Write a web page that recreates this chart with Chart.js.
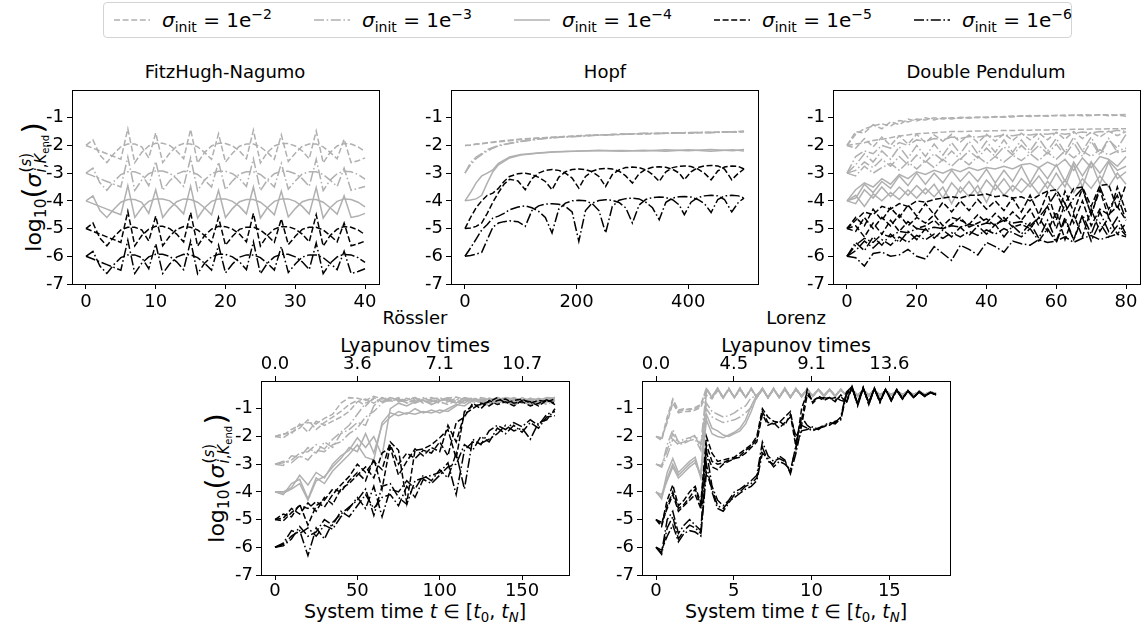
<!DOCTYPE html>
<html lang="en">
<head>
<meta charset="UTF-8">
<title>Uncertainty growth per system</title>
<script src="https://cdn.jsdelivr.net/npm/chart.js@4.4.0/dist/chart.umd.min.js"></script>
<style>
  body { margin: 0; width: 1146px; height: 626px; overflow: hidden; background: #fff; position: relative;
         font-family: "DejaVu Sans", sans-serif; color: #000; }
  canvas { position: absolute; }
  .t { position: absolute; transform: translate(-50%, -50%); white-space: nowrap; font-size: 18px; line-height: 1; }
  .lab { font-size: 19px; }
  .ylab { position: absolute; transform: translate(-50%, -50%) rotate(-90deg); white-space: nowrap; font-size: 22px; line-height: 1; }
  .stk { display: inline-block; position: relative; width: 40px; height: 22px; vertical-align: baseline; }
  .up { position: absolute; left: 1px; top: 0; font-size: 15px; line-height: 1; }
  .dn { position: absolute; left: 1px; top: 15px; font-size: 15px; line-height: 1; white-space: nowrap; }
  .e { font-size: 10px; position: relative; top: 3px; }
  .par { font-size: 1.3em; position: relative; top: 2px; }
  #legend { position: absolute; left: 103px; top: 2px; width: 967px; height: 34px; border: 1px solid #d4d4d4; border-radius: 4px; }
  .item { position: absolute; top: 0; height: 34px; display: flex; align-items: center; font-size: 20px; white-space: nowrap; }
  .item svg { margin-right: 12px; }
  sub, sup { font-size: 0.7em; line-height: 0; }
</style>
</head>
<body>
<div id="legend"></div>

<div class="t" style="left:225px; top:72px;">FitzHugh-Nagumo</div>
<div class="t" style="left:605px; top:72px;">Hopf</div>
<div class="t" style="left:986px; top:72px;">Double Pendulum</div>
<div class="t" style="left:415px; top:318px;">Rössler</div>
<div class="t" style="left:796px; top:318px;">Lorenz</div>
<div class="t lab" style="left:415px; top:345px;">Lyapunov times</div>
<div class="t lab" style="left:796px; top:345px;">Lyapunov times</div>
<div class="t lab" style="left:415px; top:611px;">System time <i>t</i> ∈ [<i>t</i><sub>0</sub>, <i>t</i><sub><i>N</i></sub>]</div>
<div class="t lab" style="left:796px; top:611px;">System time <i>t</i> ∈ [<i>t</i><sub>0</sub>, <i>t</i><sub><i>N</i></sub>]</div>
<div class="ylab" style="left:31px; top:187px;">log<sub>10</sub><span class="par">(</span><i>σ</i><span class="stk"><span class="up">(<i>s</i>)</span><span class="dn"><i>i</i>,<i>K</i><span class="e">end</span></span></span><span class="par">)</span></div>
<div class="ylab" style="left:214px; top:478px;">log<sub>10</sub><span class="par">(</span><i>σ</i><span class="stk"><span class="up">(<i>s</i>)</span><span class="dn"><i>i</i>,<i>K</i><span class="e">end</span></span></span><span class="par">)</span></div>

<script>
// legend entries
const legendExp = ['−2', '−3', '−4', '−5', '−6'];

// shared y ticks
const yTicks = [-7, -6, -5, -4, -3, -2, -1];

// ---------------- FitzHugh-Nagumo ----------------
const fhnT = [0,1,2,3,4,5,6,7,8,9,10,11,12,13,14,15,16,17,18,19,20,21,22,23,24,25,26,27,28,29,30,31,32,33,34,35,36,37,38,39,40];
const fhnTicks = [0, 10, 20, 30, 40];
const fhnA2 = [-2.00,-2.10,-2.20,-2.30,-2.40,-2.50,-1.40,-2.62,-2.25,-2.02, -1.92,-1.92,-2.00,-2.20,-2.48,-1.42,-2.63,-2.25,-2.02,-1.92, -1.93,-2.02,-2.20,-2.48,-1.45,-2.63,-2.25,-2.02,-1.93,-1.93, -2.02,-2.20,-2.48,-1.48,-2.63,-2.25,-2.02,-1.93,-1.95,-2.05, -2.22];
const fhnB2 = [-2.00,-1.80,-2.35,-2.62,-2.30,-2.05,-1.95,-1.95,-2.05,-2.45, -1.55,-2.62,-2.28,-2.03,-1.93,-1.95,-2.05,-2.25,-2.50,-1.58, -2.60,-2.28,-2.03,-1.95,-1.95,-2.05,-2.25,-2.50,-1.62,-2.58, -2.28,-2.03,-1.95,-1.95,-2.05,-2.25,-2.48,-1.78,-2.62,-2.55, -2.45];
const fhnA3 = [-3.00,-3.10,-3.20,-3.30,-3.40,-3.50,-2.42,-3.62,-3.25,-3.02, -2.92,-2.92,-3.00,-3.20,-3.48,-2.45,-3.63,-3.25,-3.02,-2.93, -2.93,-3.02,-3.20,-3.48,-2.48,-3.63,-3.25,-3.02,-2.93,-2.93, -3.02,-3.20,-3.48,-2.50,-3.63,-3.25,-3.02,-2.93,-2.95,-3.05, -3.22];
const fhnB3 = [-3.00,-2.82,-3.35,-3.62,-3.30,-3.05,-2.95,-2.95,-3.05,-3.45, -2.58,-3.62,-3.28,-3.03,-2.93,-2.95,-3.05,-3.25,-3.50,-2.60, -3.60,-3.28,-3.03,-2.95,-2.95,-3.05,-3.25,-3.50,-2.65,-3.58, -3.28,-3.03,-2.95,-2.95,-3.05,-3.25,-3.48,-2.82,-3.62,-3.55, -3.48];
const fhnA4 = [-4.00,-4.10,-4.20,-4.30,-4.40,-4.50,-3.45,-4.60,-4.25,-4.02, -3.93,-3.93,-4.00,-4.20,-4.47,-3.47,-4.62,-4.25,-4.02,-3.93, -3.93,-4.02,-4.20,-4.47,-3.50,-4.62,-4.25,-4.02,-3.93,-3.93, -4.02,-4.20,-4.47,-3.52,-4.62,-4.25,-4.02,-3.93,-3.95,-4.05, -4.22];
const fhnB4 = [-4.00,-3.82,-4.35,-4.60,-4.30,-4.05,-3.95,-3.95,-4.05,-4.45, -3.60,-4.60,-4.28,-4.03,-3.93,-3.95,-4.05,-4.25,-4.50,-3.62, -4.60,-4.28,-4.03,-3.95,-3.95,-4.05,-4.25,-4.50,-3.65,-4.58, -4.28,-4.03,-3.95,-3.95,-4.05,-4.25,-4.48,-3.82,-4.60,-4.55, -4.45];
const fhnA5 = [-5.00,-5.10,-5.20,-5.30,-5.40,-5.50,-4.38,-5.62,-5.25,-5.02, -4.92,-4.92,-5.00,-5.20,-5.48,-4.42,-5.63,-5.25,-5.02,-4.92, -4.93,-5.02,-5.20,-5.48,-4.45,-5.63,-5.25,-5.02,-4.93,-4.93, -5.02,-5.20,-5.48,-4.50,-5.63,-5.25,-5.02,-4.93,-4.95,-5.05, -5.22];
const fhnB5 = [-5.00,-4.80,-5.35,-5.62,-5.30,-5.05,-4.95,-4.95,-5.05,-5.45, -4.55,-5.62,-5.28,-5.03,-4.93,-4.95,-5.05,-5.25,-5.50,-4.60, -5.60,-5.28,-5.03,-4.95,-4.95,-5.05,-5.25,-5.50,-4.65,-5.58, -5.28,-5.03,-4.95,-4.95,-5.05,-5.25,-5.48,-4.80,-5.62,-5.55, -5.45];
const fhnA6 = [-6.00,-6.10,-6.20,-6.30,-6.40,-6.50,-5.42,-6.62,-6.25,-6.02, -5.93,-5.93,-6.00,-6.20,-6.48,-5.45,-6.63,-6.25,-6.02,-5.93, -5.93,-6.02,-6.20,-6.48,-5.48,-6.63,-6.25,-6.02,-5.93,-5.93, -6.02,-6.20,-6.48,-5.52,-6.63,-6.25,-6.02,-5.93,-5.95,-6.05, -6.22];
const fhnB6 = [-6.00,-5.82,-6.35,-6.62,-6.30,-6.05,-5.95,-5.95,-6.05,-6.45, -5.55,-6.62,-6.28,-6.03,-5.93,-5.95,-6.05,-6.25,-6.50,-5.60, -6.60,-6.28,-6.03,-5.95,-5.95,-6.05,-6.25,-6.50,-5.65,-6.58, -6.28,-6.03,-5.95,-5.95,-6.05,-6.25,-6.48,-5.82,-6.62,-6.55, -6.45];

// ---------------- Hopf ----------------
const hopfTicks = [0, 200, 400];
const hopfTs = [0,10,20,30,40,50,60,80,100,130,160,200,240,280,320,360,400,440,480,500];
const hopfD2a = [-2.00,-1.98,-1.95,-1.93,-1.90,-1.88,-1.85,-1.81,-1.77,-1.74,-1.70,-1.66,-1.62,-1.60,-1.58,-1.56,-1.55,-1.53,-1.51,-1.49];
const hopfD2b = [-2.00,-1.99,-1.96,-1.94,-1.91,-1.89,-1.87,-1.83,-1.79,-1.73,-1.71,-1.65,-1.63,-1.59,-1.59,-1.55,-1.56,-1.52,-1.52,-1.50];
const hopfC3a = [-3.00,-2.62,-2.42,-2.30,-2.15,-2.07,-2.00,-1.92,-1.85,-1.77,-1.72,-1.67,-1.63,-1.60,-1.57,-1.56,-1.54,-1.53,-1.50,-1.50];
const hopfC3b = [-3.00,-2.70,-2.48,-2.33,-2.20,-2.10,-2.02,-1.93,-1.86,-1.78,-1.71,-1.68,-1.62,-1.61,-1.56,-1.57,-1.53,-1.54,-1.51,-1.51];
const hopfS4a = [-4.00,-3.97,-3.93,-3.80,-3.35,-2.95,-2.70,-2.45,-2.35,-2.28,-2.24,-2.20,-2.19,-2.18,-2.20,-2.16,-2.19,-2.15,-2.19,-2.15];
const hopfS4b = [-4.00,-3.70,-3.35,-3.10,-3.00,-2.88,-2.65,-2.42,-2.33,-2.27,-2.23,-2.21,-2.17,-2.21,-2.17,-2.21,-2.16,-2.21,-2.16,-2.20];
const hopfT = [0,10,20,30,40,50,60,70,80,95,108,120,132,144,156,168,180,192,204,216,228,240,252,264,276,288,300,312,324,336,348,360,372,384,393,405,417,429,441,453,465,478,490,500];
const hopfA5 = [-5.00,-4.98,-4.92,-4.80,-4.45,-4.05,-3.70,-3.40,-3.22,-3.28, -3.60,-3.20,-3.00,-2.90,-2.87,-2.90,-3.00,-3.18,-3.54,-3.12, -2.93,-2.85,-2.83,-2.85,-2.93,-3.10,-3.36,-3.02,-2.86,-2.79, -2.77,-2.79,-2.86,-3.00,-3.24,-2.95,-2.80,-2.74,-2.72,-2.74, -2.85,-3.24,-3.00,-2.85];
const hopfB5 = [-5.00,-4.60,-4.25,-4.00,-3.80,-3.72,-3.55,-3.30,-3.12,-3.02, -3.00,-3.05,-3.15,-3.30,-3.60,-3.15,-2.95,-2.87,-2.85,-2.87, -2.95,-3.12,-3.48,-3.05,-2.88,-2.80,-2.78,-2.80,-2.88,-3.05, -3.30,-2.95,-2.80,-2.75,-2.74,-2.76,-2.85,-3.00,-3.24,-2.92, -2.78,-2.74,-2.76,-2.85];
const hopfC6 = [-6.00,-5.97,-5.92,-5.86,-5.40,-4.95,-4.80,-4.75,-4.72,-4.75, -4.92,-4.35,-4.18,-4.12,-4.10,-4.12,-4.20,-4.40,-5.46,-4.35, -4.08,-3.99,-3.96,-3.98,-4.06,-4.25,-4.80,-4.15,-3.95,-3.88, -3.86,-3.88,-3.96,-4.15,-4.50,-4.05,-3.88,-3.82,-3.80,-3.82, -3.95,-4.40,-4.05,-3.90];
const hopfD6 = [-6.00,-5.70,-5.38,-5.05,-4.85,-4.62,-4.55,-4.45,-4.32,-4.22, -4.18,-4.25,-4.38,-4.60,-5.16,-4.30,-4.08,-4.00,-3.98,-4.00, -4.10,-4.35,-5.16,-4.20,-3.98,-3.92,-3.90,-3.93,-4.05,-4.25, -4.68,-4.05,-3.90,-3.85,-3.84,-3.86,-3.95,-4.10,-4.42,-3.95, -3.82,-3.80,-3.82,-3.90];

// ---------------- Double Pendulum ----------------
const dpTicks = [0, 20, 40, 60, 80];
const dpT = [0,2.5,5,7.5,10,12.5,15,17.5,20,22.5,25,27.5,30,32.5,35,37.5,40,42.5,45,47.5,50,52.5,55,57.5,60,62.5,65,67.5,70,72.5,75,77.5,80];
const dpA2 = [-2.0,-1.6,-1.4,-1.3,-1.22,-1.3,-1.1,-1.15,-1.05,-1.08, -1.0,-1.05,-1.0,-1.02,-0.98,-1.0,-0.97,-0.98,-0.96,-0.94, -0.95,-0.92,-0.94,-0.92,-0.93,-0.9,-0.92,-0.89,-0.9,-0.9, -0.89,-0.9,-0.88];
const dpB2 = [-2.0,-1.5,-1.55,-1.25,-1.4,-1.15,-1.25,-1.05,-1.12,-1.0, -1.08,-1.0,-1.05,-0.98,-1.02,-0.97,-1.0,-0.96,-0.98,-0.97, -0.93,-0.96,-0.92,-0.95,-0.91,-0.94,-0.9,-0.93,-0.92,-0.89, -0.93,-0.91,-0.95];
const dpC2 = [-2.0,-1.95,-1.9,-1.82,-1.78,-1.72,-1.66,-1.62,-1.58,-1.56, -1.54,-1.52,-1.5,-1.5,-1.49,-1.48,-1.48,-1.47,-1.46,-1.46, -1.45,-1.45,-1.44,-1.44,-1.43,-1.43,-1.42,-1.42,-1.41,-1.41, -1.4,-1.4,-1.4];
const dpD2 = [-2.0,-2.1,-1.75,-2.05,-1.7,-2.0,-1.65,-1.95,-1.6,-1.9, -1.62,-1.85,-1.6,-1.88,-1.62,-1.9,-1.6,-1.85,-1.58,-1.82, -1.56,-1.8,-1.55,-1.8,-1.52,-1.78,-1.5,-1.75,-1.52,-1.7, -1.48,-1.65,-1.5];
const dpA3 = [-3.0,-2.4,-2.2,-2.3,-2.0,-2.1,-1.9,-2.0,-1.8,-1.85, -1.75,-1.8,-1.7,-1.75,-1.68,-1.7,-1.65,-1.68,-1.62,-1.65, -1.6,-1.62,-1.58,-1.6,-1.55,-1.6,-1.55,-1.52,-1.55,-1.5, -1.52,-1.45,-1.5];
const dpB3 = [-3.0,-2.7,-2.3,-2.6,-2.2,-2.5,-2.05,-2.45,-2.0,-2.4, -1.95,-2.35,-1.9,-2.3,-1.85,-2.3,-1.85,-2.25,-1.8,-2.25, -1.8,-2.2,-1.75,-2.2,-1.75,-2.25,-1.7,-2.2,-1.7,-2.3, -1.75,-2.25,-2.2];
const dpC3 = [-3.0,-2.9,-2.6,-2.8,-2.5,-2.75,-2.4,-2.7,-2.35,-2.6, -2.3,-2.55,-2.2,-2.5,-2.2,-2.45,-2.1,-2.4,-2.05,-2.35, -2.0,-2.3,-2.0,-2.3,-1.95,-2.35,-1.9,-2.4,-1.85,-2.35, -1.8,-2.1,-1.6];
const dpD3 = [-3.0,-3.1,-2.75,-3.0,-2.8,-2.65,-2.9,-2.6,-2.85,-2.55, -2.8,-2.5,-2.75,-2.45,-2.7,-2.4,-2.65,-2.4,-2.6,-2.35, -2.55,-2.3,-2.55,-2.25,-2.5,-2.2,-2.45,-2.2,-2.4,-2.15, -2.35,-2.2,-2.1];
const dpA4 = [-4.0,-3.6,-3.35,-3.5,-3.2,-3.4,-3.05,-3.2,-2.95,-3.05, -2.9,-3.0,-2.85,-2.95,-2.8,-2.9,-2.8,-2.85,-2.75,-2.85, -2.7,-2.65,-2.8,-2.6,-2.75,-2.5,-2.9,-2.45,-2.8,-2.4, -2.5,-2.75,-2.4];
const dpB4 = [-4.0,-3.9,-3.4,-3.7,-3.3,-3.55,-3.1,-3.45,-3.0,-3.4, -3.0,-3.35,-2.9,-3.3,-2.95,-3.3,-2.85,-3.35,-2.9,-3.3, -2.75,-3.35,-2.8,-3.2,-2.7,-3.3,-2.6,-3.1,-2.6,-3.0, -2.55,-2.9,-2.75];
const dpC4 = [-4.0,-4.1,-3.6,-3.9,-3.5,-3.85,-3.5,-3.8,-3.45,-3.75, -3.4,-3.9,-3.35,-3.7,-3.3,-3.75,-3.25,-3.6,-3.2,-3.65, -3.2,-3.5,-3.1,-3.55,-3.0,-3.5,-2.7,-3.5,-2.6,-3.4, -2.6,-3.2,-2.95];
const dpD4 = [-4.0,-3.8,-4.2,-3.75,-4.0,-3.7,-3.95,-3.6,-3.9,-3.55, -3.85,-3.5,-4.1,-3.5,-3.85,-3.45,-4.05,-3.4,-3.8,-3.45, -3.7,-3.35,-3.75,-3.3,-3.65,-3.25,-3.7,-3.2,-3.55,-3.1, -3.5,-3.0,-3.4];
const dpA5 = [-5.0,-4.7,-4.4,-4.5,-4.2,-4.3,-4.1,-4.2,-4.0,-4.05, -3.95,-3.9,-3.85,-3.9,-3.8,-3.8,-3.75,-3.85,-3.8,-3.9, -3.85,-4.0,-3.8,-3.65,-3.6,-4.1,-3.55,-3.5,-4.2,-3.45, -3.4,-4.3,-3.4];
const dpB5 = [-5.0,-4.6,-4.9,-4.3,-4.7,-4.25,-4.6,-4.15,-4.55,-4.1, -4.5,-4.05,-4.4,-4.0,-4.35,-3.95,-4.3,-4.0,-4.35,-3.9, -4.4,-3.8,-4.5,-3.7,-4.7,-3.65,-4.4,-3.55,-4.5,-3.6, -4.6,-3.5,-4.4];
const dpC5 = [-5.0,-5.1,-4.6,-5.0,-4.6,-4.9,-4.5,-4.9,-4.6,-4.8, -4.5,-4.9,-4.6,-4.7,-4.85,-4.5,-4.8,-4.45,-4.75,-4.4, -4.7,-4.3,-4.9,-4.2,-5.0,-4.1,-4.8,-4.0,-4.9,-4.3, -4.5,-4.2,-4.7];
const dpD5 = [-5.0,-4.9,-5.3,-4.8,-5.2,-4.7,-5.1,-4.75,-5.0,-4.9, -4.7,-5.0,-4.85,-4.6,-4.95,-4.8,-4.65,-4.9,-4.6,-4.95, -4.85,-5.0,-4.6,-5.1,-4.4,-5.4,-4.5,-5.3,-4.3,-5.1, -4.6,-5.2,-4.8];
const dpA6 = [-6.0,-5.6,-5.35,-5.5,-5.2,-5.3,-5.1,-5.15,-5.0,-5.05, -4.95,-5.0,-4.9,-4.95,-4.85,-4.9,-4.8,-4.85,-4.7,-4.8, -4.75,-4.9,-4.6,-4.2,-3.7,-4.4,-3.9,-3.55,-4.5,-3.5, -4.3,-3.8,-4.7];
const dpB6 = [-6.0,-6.05,-6.35,-5.9,-5.85,-6.0,-5.95,-5.75,-6.0,-6.1, -5.65,-5.9,-6.15,-5.6,-5.75,-5.95,-5.5,-5.65,-5.85,-5.45, -5.55,-5.6,-5.4,-5.5,-5.45,-5.3,-5.5,-5.35,-5.25,-5.4, -5.3,-5.2,-5.3];
const dpC6 = [-6.0,-5.5,-5.8,-5.3,-5.6,-5.2,-5.5,-5.1,-5.4,-5.0, -5.35,-5.05,-5.3,-4.95,-5.25,-4.9,-5.2,-4.85,-5.3,-4.9, -5.2,-4.8,-5.35,-4.7,-5.45,-4.6,-5.4,-4.5,-5.2,-4.4, -5.1,-4.6,-5.2];
const dpD6 = [-6.0,-5.8,-5.45,-5.7,-5.4,-5.6,-5.3,-5.5,-5.25,-5.4, -5.2,-5.35,-5.15,-5.3,-5.1,-5.25,-5.05,-5.2,-5.0,-5.15, -5.3,-5.0,-5.45,-5.0,-5.5,-4.7,-5.4,-4.6,-5.45,-4.8, -5.3,-4.9,-5.25];

// ---------------- Rössler ----------------
const rosTicks = [0, 50, 100, 150];
const rosLyap = ['0.0', '3.6', '7.1', '10.7'];
const rosT = [0,5,10,15,20,25,30,35,40,45,50,55,60,65,70,75,80,85,90,95,100,105,110,115,120,125,130,135,140,145,150,155,160,165,170];
const rosA2 = [-2.0,-1.95,-1.75,-1.6,-1.5,-1.55,-1.35,-1.2,-0.8,-0.6, -0.62,-0.7,-0.55,-0.65,-0.6,-0.7,-0.62,-0.75,-0.65,-0.6, -0.7,-0.62,-0.58,-0.65,-0.7,-0.6,-0.65,-0.75,-0.62,-0.7, -0.8,-0.65,-0.75,-0.62,-0.7];
const rosB2 = [-2.0,-2.05,-1.85,-1.7,-1.4,-1.75,-1.5,-1.3,-1.1,-0.85, -0.7,-0.9,-0.6,-0.75,-0.7,-0.6,-0.8,-0.65,-0.72,-0.8, -0.62,-0.7,-0.8,-0.6,-0.65,-0.8,-0.7,-0.62,-0.8,-0.65, -0.7,-0.85,-0.65,-0.7,-0.65];
const rosC2 = [-2.0,-1.9,-1.9,-1.55,-1.85,-1.45,-1.6,-1.45,-1.3,-1.1, -0.75,-0.65,-0.8,-0.6,-0.72,-0.65,-0.7,-0.6,-0.8,-0.68, -0.75,-0.85,-0.7,-0.75,-0.6,-0.72,-0.85,-0.7,-0.75,-0.9, -0.68,-0.75,-0.85,-0.75,-0.72];
const rosA3 = [-3.0,-2.95,-2.85,-2.6,-2.55,-2.3,-2.45,-2.1,-1.85,-1.6, -1.2,-0.8,-0.65,-0.75,-0.6,-0.7,-0.65,-0.6,-0.75,-0.65, -0.6,-0.72,-0.68,-0.62,-0.75,-0.65,-0.7,-0.6,-0.72,-0.8, -0.65,-0.7,-0.78,-0.65,-0.68];
const rosB3 = [-3.0,-3.05,-2.7,-2.75,-2.4,-2.6,-2.2,-2.4,-1.9,-1.75, -1.5,-1.6,-0.9,-0.6,-0.75,-0.65,-0.8,-0.7,-0.6,-0.75, -0.68,-0.6,-0.75,-0.8,-0.62,-0.72,-0.75,-0.65,-0.6,-0.75, -0.72,-0.62,-0.7,-0.85,-0.7];
const rosC3 = [-3.0,-2.9,-2.95,-2.7,-2.85,-2.5,-2.55,-2.3,-2.2,-1.9, -1.7,-1.3,-1.1,-0.8,-0.65,-0.75,-0.7,-0.8,-0.68,-0.7, -0.8,-0.75,-0.62,-0.7,-0.8,-0.7,-0.62,-0.8,-0.7,-0.62, -0.75,-0.8,-0.65,-0.72,-0.75];
const rosA4 = [-4.0,-4.1,-3.7,-3.55,-4.25,-3.5,-3.7,-3.25,-2.95,-2.65, -2.3,-2.75,-2.85,-1.5,-1.15,-1.25,-1.15,-1.2,-1.1,-1.15, -1.05,-1.1,-0.9,-0.7,-0.65,-0.8,-0.62,-0.72,-0.6,-0.65, -0.8,-0.62,-0.7,-0.65,-0.6];
const rosB4 = [-4.0,-4.0,-3.85,-3.4,-3.75,-3.3,-3.5,-3.0,-2.7,-2.5, -2.05,-2.4,-2.0,-2.7,-1.0,-0.8,-0.9,-0.75,-0.7,-0.85, -0.72,-0.65,-0.8,-0.6,-0.72,-0.65,-0.8,-0.6,-0.7,-0.85, -0.6,-0.72,-0.62,-0.7,-0.58];
const rosC4 = [-4.0,-4.05,-3.9,-3.7,-4.3,-3.6,-3.45,-3.1,-2.8,-2.4, -2.55,-1.9,-2.6,-1.6,-1.3,-1.1,-1.2,-1.0,-1.15,-1.05, -1.15,-1.0,-0.85,-0.9,-0.7,-0.75,-0.9,-0.65,-0.72,-0.6, -0.7,-0.9,-0.7,-0.6,-0.62];
const rosA5 = [-5.0,-5.05,-4.75,-4.5,-4.6,-4.35,-4.55,-4.1,-3.75,-3.45, -3.0,-3.3,-2.9,-3.2,-2.2,-2.5,-4.4,-2.5,-2.45,-2.3, -2.05,-1.75,-2.8,-1.1,-0.9,-0.85,-0.75,-0.6,-0.8,-0.7, -0.65,-0.8,-0.7,-0.75,-0.65];
const rosB5 = [-5.0,-4.8,-4.9,-4.45,-5.2,-4.5,-4.3,-3.9,-4.0,-3.6, -3.3,-3.6,-2.8,-3.9,-2.3,-3.0,-2.6,-2.8,-2.5,-2.6, -2.2,-2.7,-1.5,-1.3,-0.8,-1.0,-0.7,-0.85,-0.75,-0.9, -0.7,-0.75,-0.9,-0.7,-0.8];
const rosC5 = [-5.0,-4.95,-4.6,-4.8,-4.4,-4.7,-4.2,-4.45,-3.9,-3.7, -3.4,-3.1,-3.5,-2.6,-2.4,-3.4,-2.9,-2.45,-2.7,-2.4, -2.55,-1.6,-2.2,-1.2,-1.0,-0.8,-0.9,-0.7,-0.65,-0.8, -0.75,-0.9,-0.8,-0.68,-0.85];
const rosA6 = [-6.0,-5.9,-5.6,-5.4,-6.3,-5.3,-5.7,-5.1,-4.8,-4.55, -4.3,-3.9,-4.85,-3.8,-3.7,-4.2,-4.45,-3.6,-3.5,-3.4, -3.3,-2.95,-4.1,-2.5,-2.2,-2.25,-2.1,-1.9,-1.6,-1.8, -1.7,-2.1,-1.5,-1.4,-1.0];
const rosB6 = [-6.0,-5.85,-5.4,-5.5,-5.3,-5.6,-5.2,-5.35,-4.9,-4.6, -4.2,-4.6,-3.8,-4.9,-3.9,-4.0,-3.6,-3.9,-3.4,-3.6, -3.2,-3.5,-2.6,-3.9,-2.1,-2.3,-1.8,-1.6,-1.75,-1.5, -1.65,-1.4,-1.6,-1.2,-1.1];
const rosC6 = [-6.0,-5.95,-5.7,-5.25,-5.6,-5.45,-5.0,-5.2,-4.7,-4.9, -4.5,-4.1,-4.6,-4.2,-4.1,-4.5,-3.8,-4.2,-3.55,-3.7, -3.4,-3.1,-3.0,-2.3,-2.5,-2.0,-2.2,-1.7,-1.9,-1.6, -1.85,-1.5,-1.7,-1.3,-1.25];

// ---------------- Lorenz ----------------
const lorTicks = [0, 5, 10, 15];
const lorLyap = ['0.0', '4.5', '9.1', '13.6'];
const lorT = [0,0.36,0.72,1.08,1.44,1.8,2.16,2.52,2.88,3.24,3.6,3.96,4.32,4.68,5.04,5.4,5.76,6.12,6.48,6.84,7.2,7.56,7.92,8.28,8.64,9,9.36,9.72,10.08,10.44,10.8,11.16,11.52,11.88,12.24,12.6,12.96,13.32,13.68,14.04,14.4,14.76,15.12,15.48,15.84,16.2,16.56,16.92,17.28,17.64,18];
const lorA2 = [-2.0,-2.1,-1.3,-0.65,-1.05,-1.0,-1.05,-0.95,-0.85,-0.25, -0.6,-0.25,-0.6,-0.25,-0.6,-0.25,-0.6,-0.25,-0.6,-0.25, -0.6,-0.25,-0.6,-0.25,-0.6,-0.25,-0.55,-0.3,-0.55,-0.3, -0.55,-0.3,-0.55,-0.3,-0.55,-0.3,-0.55,-0.3,-0.55,-0.3, -0.55,-0.35,-0.5,-0.35,-0.5,-0.35,-0.5,-0.35,-0.5,-0.38, -0.45];
const lorB2 = [-2.0,-2.15,-1.4,-0.7,-1.1,-1.05,-1.0,-1.0,-0.9,-0.3, -0.55,-0.28,-0.62,-0.3,-0.58,-0.28,-0.6,-0.3,-0.55,-0.28, -0.62,-0.3,-0.58,-0.28,-0.55,-0.3,-0.58,-0.32,-0.52,-0.3, -0.56,-0.33,-0.52,-0.3,-0.55,-0.33,-0.5,-0.32,-0.52,-0.35, -0.5,-0.35,-0.52,-0.38,-0.48,-0.36,-0.5,-0.38,-0.48,-0.4, -0.45];
const lorC2 = [-2.0,-2.05,-1.5,-0.8,-1.15,-1.1,-1.1,-1.05,-0.95,-0.5, -0.65,-0.35,-0.62,-0.3,-0.6,-0.32,-0.58,-0.3,-0.6,-0.32, -0.58,-0.3,-0.6,-0.3,-0.58,-0.32,-0.55,-0.3,-0.55,-0.32, -0.52,-0.3,-0.55,-0.32,-0.52,-0.3,-0.52,-0.33,-0.5,-0.32, -0.52,-0.36,-0.5,-0.36,-0.5,-0.38,-0.48,-0.38,-0.48,-0.4, -0.44];
const lorA3 = [-3.0,-3.1,-2.3,-1.75,-2.2,-2.1,-2.05,-1.95,-2.3,-0.3, -0.6,-0.3,-0.58,-0.28,-0.6,-0.3,-0.58,-0.28,-0.6,-0.3, -0.58,-0.28,-0.6,-0.3,-0.58,-0.28,-0.55,-0.3,-0.55,-0.32, -0.55,-0.3,-0.52,-0.32,-0.55,-0.3,-0.52,-0.32,-0.52,-0.33, -0.52,-0.35,-0.5,-0.36,-0.5,-0.37,-0.48,-0.38,-0.5,-0.4, -0.46];
const lorB3 = [-3.0,-3.05,-2.5,-1.9,-2.25,-2.2,-2.1,-2.0,-2.4,-1.0, -1.3,-1.4,-1.5,-1.45,-1.4,-1.3,-1.15,-0.95,-0.6,-0.28, -0.6,-0.3,-0.58,-0.28,-0.6,-0.3,-0.55,-0.3,-0.55,-0.3, -0.52,-0.32,-0.55,-0.3,-0.52,-0.32,-0.52,-0.33,-0.5,-0.32, -0.52,-0.35,-0.5,-0.36,-0.48,-0.38,-0.5,-0.38,-0.48,-0.4, -0.45];
const lorC3 = [-3.0,-3.1,-2.7,-2.1,-2.3,-2.25,-2.15,-2.1,-2.5,-0.8, -1.1,-1.2,-1.3,-1.25,-1.15,-1.0,-0.9,-0.6,-0.55,-0.3, -0.58,-0.28,-0.6,-0.3,-0.55,-0.3,-0.56,-0.32,-0.52,-0.3, -0.55,-0.3,-0.52,-0.33,-0.5,-0.3,-0.55,-0.33,-0.52,-0.35, -0.5,-0.35,-0.48,-0.37,-0.5,-0.38,-0.48,-0.4,-0.47,-0.4, -0.44];
const lorA4 = [-4.0,-4.2,-3.3,-2.8,-3.3,-3.1,-2.9,-2.75,-3.45,-0.3, -0.6,-0.25,-0.6,-0.28,-0.58,-0.25,-0.6,-0.28,-0.58,-0.25, -0.6,-0.28,-0.58,-0.25,-0.6,-0.28,-0.55,-0.3,-0.55,-0.3, -0.55,-0.3,-0.55,-0.3,-0.52,-0.3,-0.55,-0.32,-0.52,-0.32, -0.52,-0.35,-0.5,-0.35,-0.5,-0.38,-0.5,-0.38,-0.48,-0.4, -0.45];
const lorB4 = [-4.0,-4.25,-3.5,-3.0,-3.4,-3.2,-3.0,-2.85,-3.5,-1.2, -1.7,-1.8,-1.95,-2.0,-1.9,-1.8,-1.55,-1.1,-0.55,-0.28, -0.6,-0.3,-0.58,-0.3,-0.6,-0.3,-0.55,-0.3,-0.55,-0.32, -0.52,-0.3,-0.55,-0.32,-0.52,-0.33,-0.52,-0.33,-0.5,-0.35, -0.52,-0.36,-0.5,-0.36,-0.48,-0.38,-0.5,-0.38,-0.48,-0.4, -0.45];
const lorC4 = [-4.0,-4.1,-3.6,-3.1,-3.5,-3.3,-3.1,-2.95,-3.4,-1.4, -1.9,-2.0,-2.05,-1.95,-1.85,-1.7,-1.4,-0.9,-0.5,-0.3, -0.6,-0.28,-0.6,-0.3,-0.58,-0.3,-0.55,-0.32,-0.55,-0.3, -0.52,-0.32,-0.55,-0.3,-0.52,-0.32,-0.5,-0.33,-0.52,-0.35, -0.5,-0.35,-0.5,-0.37,-0.48,-0.38,-0.48,-0.4,-0.48,-0.4, -0.45];
const lorA5 = [-5.0,-5.2,-4.3,-3.75,-4.5,-4.3,-4.0,-3.8,-4.4,-2.0, -2.6,-2.9,-2.85,-2.8,-2.75,-2.6,-2.45,-2.3,-2.0,-1.0, -1.3,-1.45,-1.5,-1.3,-1.1,-2.2,-1.4,-0.3,-0.8,-0.6, -0.7,-0.6,-0.75,-0.5,-0.75,-0.2,-0.8,-0.25,-0.85,-0.25, -0.75,-0.3,-0.7,-0.3,-0.65,-0.35,-0.6,-0.38,-0.55,-0.4, -0.5];
const lorB5 = [-5.0,-5.25,-4.5,-4.0,-4.6,-4.45,-4.2,-3.9,-4.5,-2.3, -2.9,-3.0,-2.95,-2.85,-2.8,-2.7,-2.5,-2.35,-2.1,-1.1, -1.5,-1.55,-1.45,-1.6,-1.2,-2.4,-1.0,-0.4,-0.75,-0.55, -0.65,-0.6,-0.7,-0.55,-0.8,-0.2,-0.85,-0.25,-0.8,-0.28, -0.7,-0.3,-0.7,-0.32,-0.62,-0.35,-0.6,-0.38,-0.55,-0.42, -0.48];
const lorC5 = [-5.0,-5.1,-4.6,-4.1,-4.7,-4.5,-4.3,-4.1,-4.6,-2.6, -3.1,-3.2,-3.0,-2.9,-2.8,-2.75,-2.6,-2.4,-2.2,-1.2, -1.6,-1.5,-1.7,-1.5,-1.3,-2.0,-1.6,-0.5,-0.7,-0.6, -0.6,-0.65,-0.6,-0.7,-0.75,-0.25,-0.8,-0.3,-0.75,-0.3, -0.72,-0.32,-0.65,-0.35,-0.6,-0.38,-0.58,-0.4,-0.52,-0.42, -0.5];
const lorA6 = [-6.0,-6.2,-5.0,-4.7,-5.5,-5.2,-5.0,-5.2,-5.4,-2.5, -3.8,-4.3,-4.5,-4.3,-4.0,-3.9,-3.75,-3.6,-3.4,-2.2, -2.7,-2.9,-2.8,-2.9,-3.3,-2.3,-1.3,-1.6,-1.75,-1.7, -1.65,-1.55,-1.5,-1.3,-0.4,-0.2,-0.85,-0.25,-0.8,-0.25, -0.75,-0.3,-0.7,-0.3,-0.65,-0.35,-0.6,-0.38,-0.55,-0.4, -0.5];
const lorB6 = [-6.0,-6.25,-5.3,-4.9,-5.7,-5.4,-5.2,-5.3,-5.5,-3.0, -4.0,-4.6,-4.7,-4.4,-4.1,-4.0,-3.8,-3.7,-3.5,-2.4, -2.9,-3.0,-2.7,-2.85,-3.35,-2.6,-1.6,-1.7,-1.8,-1.7, -1.6,-1.6,-1.45,-1.4,-0.5,-0.25,-0.8,-0.22,-0.85,-0.28, -0.75,-0.3,-0.72,-0.32,-0.65,-0.35,-0.6,-0.4,-0.55,-0.42, -0.5];
const lorC6 = [-6.0,-6.1,-5.6,-5.2,-5.8,-5.5,-5.4,-5.45,-5.6,-3.3, -3.9,-4.5,-4.6,-4.35,-4.2,-4.05,-3.9,-3.8,-3.6,-2.6, -2.8,-3.1,-2.9,-3.0,-3.2,-2.4,-1.8,-1.75,-1.65,-1.75, -1.6,-1.5,-1.55,-1.35,-0.45,-0.22,-0.9,-0.28,-0.78,-0.28, -0.78,-0.3,-0.68,-0.35,-0.65,-0.35,-0.58,-0.4,-0.56,-0.42, -0.48];

// ---------------- styles ----------------
const GRAY = '#b0b0b0', BLACK = '#000000';
const DASH = [6, 2.6], DASHDOT = [10, 2.6, 1.6, 2.6];
const STY = {
    e2: { color: GRAY, dash: DASH, order: 5 },
    e3: { color: GRAY, dash: DASHDOT, order: 4 },
    e4: { color: GRAY, dash: [], order: 3 },
    e5: { color: BLACK, dash: DASH, order: 2 },
    e6: { color: BLACK, dash: DASHDOT, order: 1 }
};
const legendKeys = ['e2', 'e3', 'e4', 'e5', 'e6'];

function line(xs, ys, key) {
    const s = STY[key];
    return {
        data: xs.map((x, i) => ({ x: x, y: ys[i] })),
        borderColor: s.color, borderDash: s.dash, borderWidth: 1.5,
        pointRadius: 0, fill: false, tension: 0, order: s.order
    };
}

// black frame round the plot area (matplotlib spines)
const framePlugin = {
    id: 'frame',
    afterDraw(c) {
        const a = c.chartArea, ctx = c.ctx;
        ctx.save();
        ctx.strokeStyle = '#000';
        ctx.lineWidth = 1;
        const l = Math.round(a.left), t = Math.round(a.top);
        ctx.strokeRect(l + 0.5, t + 0.5, Math.round(a.right) - l, Math.round(a.bottom) - t);
        ctx.restore();
    }
};

function tickAxis(pos, min, max, ticks, labels, size, pad) {
    return {
        type: 'linear', position: pos, min: min, max: max,
        afterBuildTicks: ax => { ax.ticks = ticks.map(v => ({ value: v })); },
        afterFit: ax => {
            if (pos === 'left') ax.width = size; else ax.height = size;
            ax.paddingLeft = 0; ax.paddingRight = 0; ax.paddingTop = 0; ax.paddingBottom = 0;
        },
        grid: { drawOnChartArea: false, drawTicks: true, tickLength: 5, color: '#000', lineWidth: 1 },
        border: { display: false },
        ticks: {
            color: '#000', padding: pad, maxRotation: 0, autoSkip: false,
            font: { family: 'DejaVu Sans', size: 18 },
            callback: (v, i) => labels ? labels[i] : String(v)
        }
    };
}

function panel(box, opt) {
    const L = box[0], T = box[1], R = box[2], B = box[3];
    const yw = 68, rp = 8, bh = 34;
    const tp = opt.top ? 0 : 10, th = opt.top ? 40 : 0;
    const cv = document.createElement('canvas');
    cv.width = yw + (R - L) + rp;
    cv.height = tp + th + (B - T) + bh;
    cv.style.left = (L - yw) + 'px';
    cv.style.top = (T - th - tp) + 'px';
    document.body.appendChild(cv);
    const scales = {
        x: tickAxis('bottom', opt.xmin, opt.xmax, opt.xticks, null, bh, opt.top ? 1 : 3),
        y: tickAxis('left', -7, 0, yTicks, null, yw, 3)
    };
    if (opt.top) scales.x2 = tickAxis('top', opt.xmin, opt.xmax, opt.xticks, opt.top, th, 1);
    new Chart(cv, {
        type: 'line',
        data: { datasets: opt.sets },
        options: {
            responsive: false, animation: false, events: [],
            layout: { padding: { left: 0, top: tp, right: rp, bottom: 0 } },
            plugins: { legend: { display: false }, tooltip: { enabled: false } },
            scales: scales
        },
        plugins: [framePlugin]
    });
}

panel([72, 90, 379, 284], {
    xmin: -2, xmax: 42, xticks: fhnTicks,
    sets: [
        line(fhnT, fhnA2, 'e2'), line(fhnT, fhnB2, 'e2'),
        line(fhnT, fhnA3, 'e3'), line(fhnT, fhnB3, 'e3'),
        line(fhnT, fhnA4, 'e4'), line(fhnT, fhnB4, 'e4'),
        line(fhnT, fhnA5, 'e5'), line(fhnT, fhnB5, 'e5'),
        line(fhnT, fhnA6, 'e6'), line(fhnT, fhnB6, 'e6')
    ]
});

panel([451, 90, 758, 284], {
    xmin: -25, xmax: 525, xticks: hopfTicks,
    sets: [
        line(hopfTs, hopfD2a, 'e2'), line(hopfTs, hopfD2b, 'e2'),
        line(hopfTs, hopfC3a, 'e3'), line(hopfTs, hopfC3b, 'e3'),
        line(hopfTs, hopfS4a, 'e4'), line(hopfTs, hopfS4b, 'e4'),
        line(hopfT, hopfA5, 'e5'), line(hopfT, hopfB5, 'e5'),
        line(hopfT, hopfC6, 'e6'), line(hopfT, hopfD6, 'e6')
    ]
});

panel([833, 90, 1140, 284], {
    xmin: -4, xmax: 84, xticks: dpTicks,
    sets: [
        line(dpT, dpA2, 'e2'), line(dpT, dpB2, 'e2'), line(dpT, dpC2, 'e2'), line(dpT, dpD2, 'e2'),
        line(dpT, dpA3, 'e3'), line(dpT, dpB3, 'e3'), line(dpT, dpC3, 'e3'), line(dpT, dpD3, 'e3'),
        line(dpT, dpA4, 'e4'), line(dpT, dpB4, 'e4'), line(dpT, dpC4, 'e4'), line(dpT, dpD4, 'e4'),
        line(dpT, dpA5, 'e5'), line(dpT, dpB5, 'e5'), line(dpT, dpC5, 'e5'), line(dpT, dpD5, 'e5'),
        line(dpT, dpA6, 'e6'), line(dpT, dpB6, 'e6'), line(dpT, dpC6, 'e6'), line(dpT, dpD6, 'e6')
    ]
});

panel([261, 381, 569, 575], {
    xmin: -8.5, xmax: 178.5, xticks: rosTicks, top: rosLyap,
    sets: [
        line(rosT, rosA2, 'e2'), line(rosT, rosB2, 'e2'), line(rosT, rosC2, 'e2'),
        line(rosT, rosA3, 'e3'), line(rosT, rosB3, 'e3'), line(rosT, rosC3, 'e3'),
        line(rosT, rosA4, 'e4'), line(rosT, rosB4, 'e4'), line(rosT, rosC4, 'e4'),
        line(rosT, rosA5, 'e5'), line(rosT, rosB5, 'e5'), line(rosT, rosC5, 'e5'),
        line(rosT, rosA6, 'e6'), line(rosT, rosB6, 'e6'), line(rosT, rosC6, 'e6')
    ]
});

panel([642, 381, 950, 575], {
    xmin: -0.9, xmax: 18.9, xticks: lorTicks, top: lorLyap,
    sets: [
        line(lorT, lorA2, 'e2'), line(lorT, lorB2, 'e2'), line(lorT, lorC2, 'e2'),
        line(lorT, lorA3, 'e3'), line(lorT, lorB3, 'e3'), line(lorT, lorC3, 'e3'),
        line(lorT, lorA4, 'e4'), line(lorT, lorB4, 'e4'), line(lorT, lorC4, 'e4'),
        line(lorT, lorA5, 'e5'), line(lorT, lorB5, 'e5'), line(lorT, lorC5, 'e5'),
        line(lorT, lorA6, 'e6'), line(lorT, lorB6, 'e6'), line(lorT, lorC6, 'e6')
    ]
});

// shared legend above all panels
const legend = document.getElementById('legend');
legendKeys.forEach((k, i) => {
    const s = STY[k];
    const item = document.createElement('div');
    item.className = 'item';
    item.style.left = (10 + 200 * i) + 'px';
    item.innerHTML =
        '<svg width="36" height="8"><line x1="0" y1="4" x2="36" y2="4" stroke="' + s.color +
        '" stroke-width="1.5" stroke-dasharray="' + (s.dash.length ? s.dash.join(' ') : 'none') + '"/></svg>' +
        '<span><i>σ</i><sub>init</sub> = 1e<sup>' + legendExp[i] + '</sup></span>';
    legend.appendChild(item);
});
</script>
</body>
</html>
